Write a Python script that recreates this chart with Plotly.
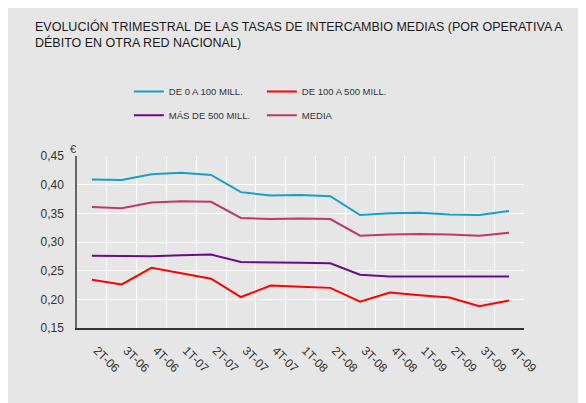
import plotly.graph_objects as go

quarters = ["2T-06", "3T-06", "4T-06", "1T-07", "2T-07", "3T-07", "4T-07", "1T-08",
            "2T-08", "3T-08", "4T-08", "1T-09", "2T-09", "3T-09", "4T-09"]

de_0_100 = [0.409, 0.408, 0.418, 0.421, 0.417, 0.387, 0.381, 0.382,
            0.380, 0.347, 0.350, 0.351, 0.348, 0.347, 0.354]
de_100_500 = [0.234, 0.226, 0.255, 0.246, 0.236, 0.204, 0.224, 0.222,
              0.220, 0.196, 0.212, 0.207, 0.203, 0.188, 0.198]
mas_500 = [0.276, 0.275, 0.275, 0.277, 0.278, 0.265, 0.265, 0.264,
           0.263, 0.243, 0.240, 0.240, 0.240, 0.240, 0.240]
media = [0.361, 0.359, 0.369, 0.371, 0.370, 0.342, 0.340, 0.341,
         0.340, 0.311, 0.313, 0.314, 0.313, 0.311, 0.316]

FONT = "Liberation Sans, Arial, sans-serif"

fig = go.Figure()
fig.add_trace(go.Scatter(x=quarters, y=de_0_100, name="DE 0 A 100 MILL.", mode="lines",
                         line=dict(color="#169fc7", width=2), legend="legend"))
fig.add_trace(go.Scatter(x=quarters, y=de_100_500, name="DE 100 A 500 MILL.", mode="lines",
                         line=dict(color="#ff0000", width=2), legend="legend"))
fig.add_trace(go.Scatter(x=quarters, y=mas_500, name="MÁS DE 500 MILL.", mode="lines",
                         line=dict(color="#6c0a88", width=2), legend="legend2"))
fig.add_trace(go.Scatter(x=quarters, y=media, name="MEDIA", mode="lines",
                         line=dict(color="#bf3a62", width=2), legend="legend2"))

legend_common = dict(orientation="h", xanchor="left", yanchor="middle",
                     bgcolor="rgba(0,0,0,0)", entrywidth=88, entrywidthmode="pixels",
                     itemwidth=30, font=dict(family=FONT, size=9.5, color="#333333"))

fig.update_layout(
    width=578, height=395,
    paper_bgcolor="#e6e6e6", plot_bgcolor="#e6e6e6",
    margin=dict(l=69, r=62, t=148, b=75),
    separators=",.",
    font=dict(family=FONT, size=12, color="#333333"),
    title=dict(text="EVOLUCIÓN TRIMESTRAL DE LAS TASAS DE INTERCAMBIO MEDIAS (POR OPERATIVA A<br>DÉBITO EN OTRA RED NACIONAL)",
               xref="container", yref="container", x=27 / 578, y=1 - 23 / 395,
               xanchor="left", yanchor="top",
               font=dict(family=FONT, size=12.5, color="#1a1a1a")),
    legend=dict(x=0.116, y=1.375, **legend_common),
    legend2=dict(x=0.116, y=1.237, **legend_common),
    xaxis=dict(type="category", range=[-0.5, 14.5], tickson="boundaries",
               showgrid=True, gridcolor="#ffffff", gridwidth=1.3,
               showline=True, linecolor="#333333", linewidth=1.5,
               ticks="", tickangle=45, ticklabelstandoff=9, ticklabelshift=5),
    yaxis=dict(range=[0.15, 0.45], dtick=0.05, tickformat=".2f",
               showgrid=True, gridcolor="#ffffff", gridwidth=1.3, zeroline=False,
               showline=True, linecolor="#666666", linewidth=1.5,
               ticks="", ticklabelstandoff=9),
    annotations=[dict(text="€", xref="paper", yref="paper", x=-0.02, y=1.087,
                      showarrow=False, font=dict(family=FONT, size=11, color="#333333"))],
)

fig.write_html("out.html")
